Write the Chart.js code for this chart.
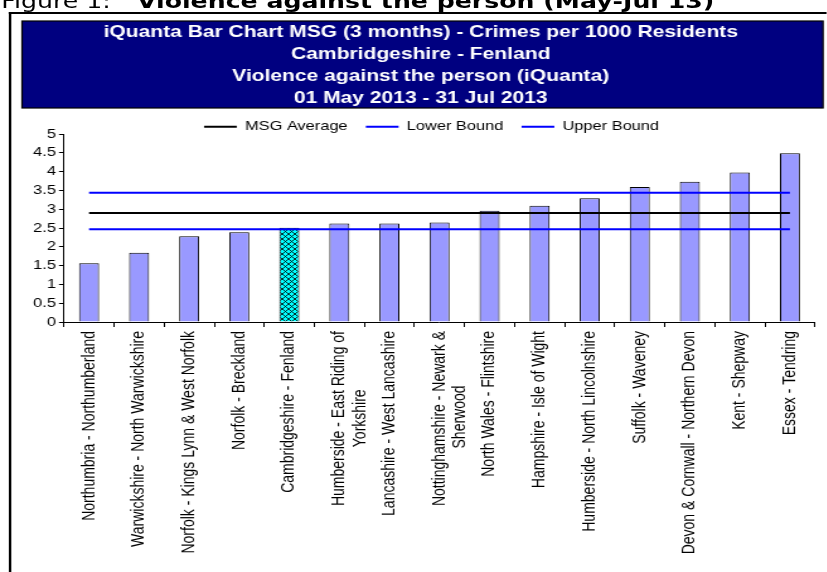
<!DOCTYPE html>
<html>
<head>
<meta charset="utf-8">
<script src="https://cdn.jsdelivr.net/npm/chart.js@4.4.1/dist/chart.umd.min.js"></script>
<style>
  html, body { margin: 0; padding: 0; background: #fff; overflow: hidden; }
  /* the sheet is laid out narrow and stretched sideways */
  #sheet {
    position: absolute; left: 0; top: 0;
    width: 656.4px; height: 572px;
    transform: scaleX(1.26); transform-origin: 0 0;
    overflow: hidden;
  }
  #caption {
    position: absolute; left: 1px; top: -9px;
    font-family: "DejaVu Sans", Verdana, sans-serif;
    font-size: 20px; line-height: 20px; white-space: nowrap; color: #000;
  }
  #caption b { position: absolute; left: 107.7px; top: 0; }
  #frame {
    position: absolute; left: 7px; top: 12px; width: 700px; height: 620px;
    border-left: 2.2px solid #000; border-top: 2px solid #000;
  }
  #wrap { position: absolute; left: 9px; top: 14px; width: 647px; height: 558px; }
</style>
</head>
<body>
<div id="sheet">
  <div id="caption">Figure 1:<b>Violence against the person (May-Jul 13)</b></div>
  <div id="frame"></div>
  <div id="wrap"><canvas id="chart"></canvas></div>
</div>
<script>
const categories = [
  'Northumbria - Northumberland',
  'Warwickshire - North Warwickshire',
  'Norfolk - Kings Lynn & West Norfolk',
  'Norfolk - Breckland',
  'Cambridgeshire - Fenland',
  ['Humberside - East Riding of', 'Yorkshire'],
  'Lancashire - West Lancashire',
  ['Nottinghamshire - Newark &', 'Sherwood'],
  'North Wales - Flintshire',
  'Hampshire - Isle of Wight',
  'Humberside - North Lincolnshire',
  'Suffolk - Waveney',
  'Devon & Cornwall - Northern Devon',
  'Kent - Shepway',
  'Essex - Tendring'
];
const crimesPer1000 = [1.56, 1.84, 2.28, 2.39, 2.51, 2.62, 2.62, 2.65, 2.96, 3.09, 3.29, 3.59, 3.73, 3.98, 4.49];
const msgAverage = [2.90, 2.90, 2.90, 2.90, 2.90, 2.90, 2.90, 2.90, 2.90, 2.90, 2.90, 2.90, 2.90, 2.90, 2.90];
const lowerBound = [2.47, 2.47, 2.47, 2.47, 2.47, 2.47, 2.47, 2.47, 2.47, 2.47, 2.47, 2.47, 2.47, 2.47, 2.47];
const upperBound = [3.44, 3.44, 3.44, 3.44, 3.44, 3.44, 3.44, 3.44, 3.44, 3.44, 3.44, 3.44, 3.44, 3.44, 3.44];
const yMin = 0, yMax = 5, yStep = 0.5;
const selectedArea = 4; // Cambridgeshire - Fenland

const titleLines = [
  'iQuanta Bar Chart MSG (3 months) - Crimes per 1000 Residents',
  'Cambridgeshire - Fenland',
  'Violence against the person (iQuanta)',
  '01 May 2013 - 31 Jul 2013'
];

const FONT = "'Liberation Sans', Arial, sans-serif";
const ctx = document.getElementById('chart').getContext('2d');

// cyan fill with a black cross hatch for the selected area
function crossHatch() {
  const tile = document.createElement('canvas');
  tile.width = 5;
  tile.height = 5;
  const t = tile.getContext('2d');
  t.fillStyle = '#00ffff';
  t.fillRect(0, 0, 5, 5);
  t.strokeStyle = '#000';
  t.lineWidth = 0.8;
  t.beginPath();
  t.moveTo(0, 0); t.lineTo(5, 5);
  t.moveTo(5, 0); t.lineTo(0, 5);
  t.stroke();
  return ctx.createPattern(tile, 'repeat');
}

// rotated labels are right aligned by Chart.js, so pad the shorter
// lines of a wrapped label until they sit centred under the first one
function centreLines(label) {
  if (!Array.isArray(label)) return label;
  ctx.save();
  ctx.font = '14px ' + FONT;
  const widest = Math.max(...label.map(s => ctx.measureText(s).width));
  const out = label.map(s => {
    let padded = s;
    while (ctx.measureText(padded + ' ').width - (widest + ctx.measureText(s).width) / 2 <= 0.5) {
      padded += ' ';
    }
    return padded;
  });
  ctx.restore();
  return out;
}

var barColours = crimesPer1000.map((v, i) => i === selectedArea ? crossHatch() : '#9999ff');

// navy panel behind the title lines
const titlePanel = {
  id: 'titlePanel',
  beforeDraw(chart) {
    const c = chart.ctx;
    const top = chart.titleBlock.top;
    c.save();
    c.fillStyle = '#000080';
    c.fillRect(8.5, top, 635.7, 87);
    c.strokeStyle = '#000';
    c.lineWidth = 1.2;
    c.strokeRect(8.5, top, 635.7, 87);
    c.restore();
  },
  afterLayout(chart) {
    chart.legend.left += 8.6;
    chart.legend.right += 8.6;
  }
};

Chart.defaults.font.family = FONT;
Chart.defaults.color = '#000';

var lineStyle = {
  type: 'line',
  borderWidth: 2,
  pointRadius: 0,
  fill: false,
  tension: 0
};

var chartData = {
  type: 'bar',
  data: {
    labels: categories,
    datasets: [
      Object.assign({label: 'MSG Average', data: msgAverage, borderColor: '#000', backgroundColor: '#000'}, lineStyle),
      Object.assign({label: 'Lower Bound', data: lowerBound, borderColor: '#0000ff', backgroundColor: '#0000ff'}, lineStyle),
      Object.assign({label: 'Upper Bound', data: upperBound, borderColor: '#0000ff', backgroundColor: '#0000ff'}, lineStyle),
      {
        label: 'Crimes per 1000 Residents',
        data: crimesPer1000,
        backgroundColor: barColours,
        borderColor: '#000',
        borderWidth: 1,
        barPercentage: 0.4,
        categoryPercentage: 1
      }
    ]
  },
  options: {
    responsive: true,
    maintainAspectRatio: false,
    animation: false,
    layout: { padding: { top: 7, left: 12, right: 9.2, bottom: 0 } },
    plugins: {
      tooltip: { enabled: false },
      title: {
        display: true,
        text: titleLines,
        color: '#fff',
        font: { size: 16.7, weight: 'bold', lineHeight: 1.3 },
        padding: { top: 1, bottom: -3 }
      },
      legend: {
        display: true,
        maxHeight: 28.2,
        labels: {
          boxWidth: 26,
          boxHeight: 2,
          padding: 14.5,
          font: { size: 13 },
          generateLabels(chart) {
            return Chart.defaults.plugins.legend.labels.generateLabels(chart)
              .filter(item => item.datasetIndex < 3)
              .map(item => Object.assign(item, { lineWidth: 0, fillStyle: item.strokeStyle }));
          }
        }
      }
    },
    scales: {
      x: {
        afterFit(scale) { scale.height = 250; },
        grid: { drawOnChartArea: false, tickLength: 5, color: '#000' },
        border: { color: '#000', width: 1 },
        ticks: {
          autoSkip: false, minRotation: 90, maxRotation: 90, padding: 4, font: { size: 14 },
          callback: (value, index) => centreLines(categories[index])
        }
      },
      y: {
        min: yMin,
        max: yMax,
        afterFit(scale) { scale.width = 29.8; },
        grid: { drawOnChartArea: false, tickLength: 4, color: '#000' },
        border: { color: '#000', width: 1 },
        ticks: { stepSize: yStep, padding: 2.4, font: { size: 13 }, callback: value => String(value) }
      }
    }
  },
  plugins: [titlePanel]
};

var myChart = new Chart(ctx, chartData);
</script>
</body>
</html>
